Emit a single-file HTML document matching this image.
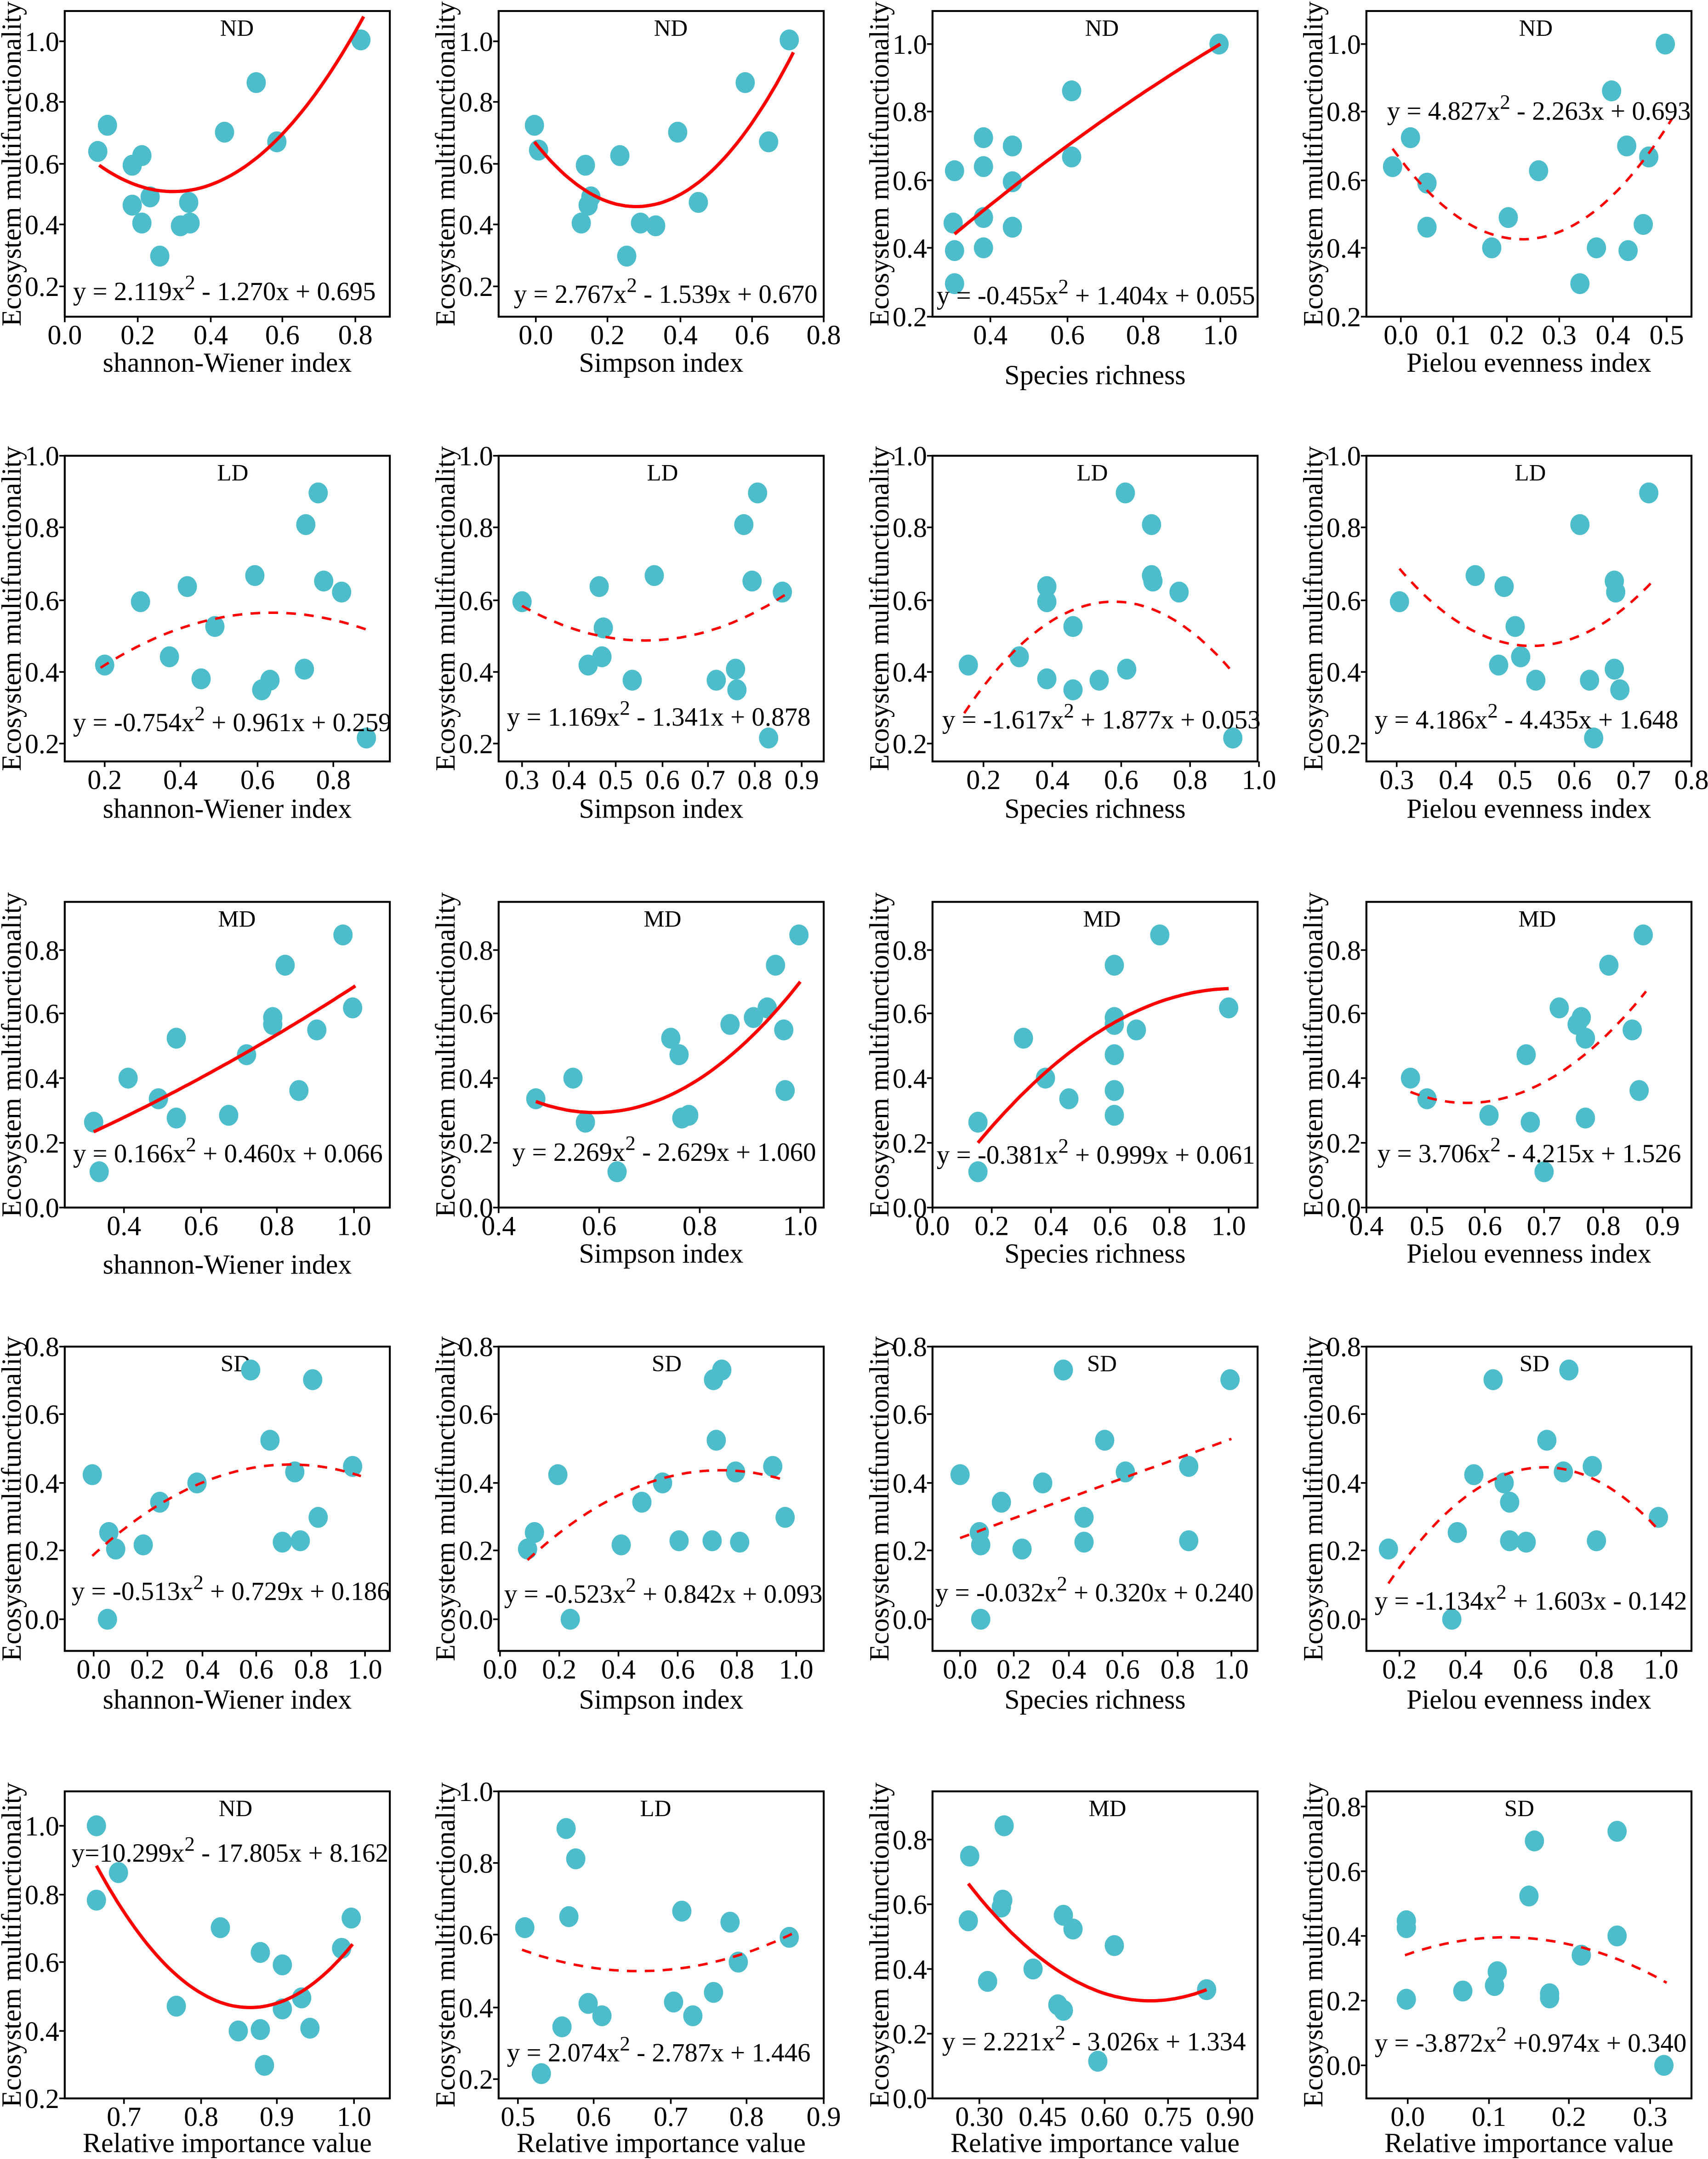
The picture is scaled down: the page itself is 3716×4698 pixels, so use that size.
<!DOCTYPE html>
<html><head><meta charset="utf-8"><style>
html,body{margin:0;padding:0;background:#fff}
svg{display:block}
text{font-family:"Liberation Serif",serif;fill:#000}
</style></head><body>
<svg id="s" xmlns="http://www.w3.org/2000/svg" width="3716" height="4698" viewBox="0 0 1240 1568" preserveAspectRatio="none"></svg>
<script>
const cols=[[47,283],[362,598],[677,913],[992,1228]];
const rows=[[8,230],[331,553],[655,877],[978,1199],[1301,1524]];
const P=[
// row1
{r:0,c:0,lab:"ND",lx:172,ly:20,yt:[[.2,208],[.4,163],[.6,119],[.8,74],[1.0,30]],xt:[["0.0",47],["0.2",100],["0.4",153],["0.6",205],["0.8",258]],xl:"shannon-Wiener index",xly:264,
pts:[[71,110],[78,91],[96,120],[103,113],[96,149],[103,162],[109,143],[116,186],[131,164],[137,147],[138,162],[163,96],[186,60],[201,103],[262,29]],cv:[[72,120],[130,139],[264,12]],d:0,eq:["y = 2.119x"," - 1.270x + 0.695"],ex:53,ey:212},
{r:0,c:1,lab:"ND",lx:487,ly:20,yt:[[.2,208],[.4,163],[.6,119],[.8,74],[1.0,30]],xt:[["0.0",389],["0.2",441],["0.4",494],["0.6",546],["0.8",598]],xl:"Simpson index",xly:264,
pts:[[388,91],[391,109],[425,120],[427,149],[429,143],[422,162],[450,113],[455,186],[465,162],[476,164],[492,96],[507,147],[541,60],[558,103],[573,29]],cv:[[388,103],[460,150],[576,38]],d:0,eq:["y = 2.767x"," - 1.539x + 0.670"],ex:373,ey:214},
{r:0,c:2,lab:"ND",lx:800,ly:20,yt:[[.2,230],[.4,180],[.6,131],[.8,81],[1.0,32]],xt:[["0.4",719],["0.6",775],["0.8",830],["1.0",886]],xl:"Species richness",xly:273,
pts:[[693,124],[714,100],[714,121],[735,106],[735,132],[692,162],[714,158],[735,165],[714,180],[693,182],[693,206],[778,66],[778,114],[885,32]],cv:[[693,170],[790,95],[886,32]],d:0,eq:["y = -0.455x"," + 1.404x + 0.055"],ex:680,ey:215},
{r:0,c:3,lab:"ND",lx:1115,ly:20,yt:[[.2,230],[.4,180],[.6,131],[.8,81],[1.0,32]],xt:[["0.0",1017],["0.1",1055],["0.2",1094],["0.3",1132],["0.4",1171],["0.5",1210]],xl:"Pielou evenness index",xly:264,
pts:[[1011,121],[1024,100],[1036,133],[1036,165],[1083,180],[1095,158],[1117,124],[1147,206],[1159,180],[1170,66],[1181,106],[1182,182],[1193,163],[1197,114],[1209,32]],cv:[[1011,108],[1095,173],[1214,86]],d:1,eq:["y = 4.827x"," - 2.263x + 0.693"],ex:1007,ey:81},
// row2
{r:1,c:0,lab:"LD",lx:169,ly:343,yt:[[.2,540],[.4,488],[.6,436],[.8,383],[1.0,331]],xt:[["0.2",76],["0.4",131],["0.6",187],["0.8",242]],xl:"shannon-Wiener index",xly:588,
pts:[[76,483],[102,437],[136,426],[123,477],[146,493],[156,455],[185,418],[190,501],[196,494],[221,486],[222,381],[231,358],[235,422],[248,430],[266,536]],cv:[[73,485],[200,445],[268,458]],d:1,eq:["y = -0.754x"," + 0.961x + 0.259"],ex:53,ey:525},
{r:1,c:1,lab:"LD",lx:481,ly:343,yt:[[.2,540],[.4,488],[.6,436],[.8,383],[1.0,331]],xt:[["0.3",379],["0.4",413],["0.5",447],["0.6",481],["0.7",514],["0.8",548],["0.9",582]],xl:"Simpson index",xly:588,
pts:[[379,437],[427,483],[435,426],[437,477],[438,456],[459,494],[475,418],[520,494],[534,486],[535,501],[540,381],[550,358],[546,422],[558,536],[568,430]],cv:[[379,440],[475,465],[570,432]],d:1,eq:["y = 1.169x"," - 1.341x + 0.878"],ex:368,ey:521},
{r:1,c:2,lab:"LD",lx:793,ly:343,yt:[[.2,540],[.4,488],[.6,436],[.8,383],[1.0,331]],xt:[["0.2",714],["0.4",764],["0.6",814],["0.8",864],["1.0",914]],xl:"Species richness",xly:588,
pts:[[703,483],[740,477],[760,426],[760,437],[760,493],[779,455],[779,501],[798,494],[817,358],[818,486],[836,381],[836,418],[837,422],[856,430],[895,536]],cv:[[700,518],[810,437],[893,486]],d:1,eq:["y = -1.617x"," + 1.877x + 0.053"],ex:684,ey:523},
{r:1,c:3,lab:"LD",lx:1111,ly:343,yt:[[.2,540],[.4,488],[.6,436],[.8,383],[1.0,331]],xt:[["0.3",1014],["0.4",1057],["0.5",1100],["0.6",1143],["0.7",1186],["0.8",1228]],xl:"Pielou evenness index",xly:588,
pts:[[1016,437],[1071,418],[1088,483],[1092,426],[1100,455],[1104,477],[1115,494],[1147,381],[1154,494],[1172,422],[1173,430],[1172,486],[1176,501],[1157,536],[1197,358]],cv:[[1016,413],[1108,469],[1199,423]],d:1,eq:["y = 4.186x"," - 4.435x + 1.648"],ex:998,ey:523},
// row3
{r:2,c:0,lab:"MD",lx:172,ly:667,yt:[[0,877],[.2,830],[.4,783],[.6,736],[.8,690]],xt:[["0.4",90],["0.6",146],["0.8",201],["1.0",257]],xl:"shannon-Wiener index",xly:919,
pts:[[68,815],[72,851],[93,783],[115,798],[128,812],[128,754],[166,810],[179,766],[198,744],[198,739],[207,701],[217,792],[230,748],[249,679],[256,732]],cv:[[68,822],[160,775],[258,716]],d:0,eq:["y = 0.166x"," + 0.460x + 0.066"],ex:53,ey:838},
{r:2,c:1,lab:"MD",lx:481,ly:667,yt:[[0,877],[.2,830],[.4,783],[.6,736],[.8,690]],xt:[["0.4",362],["0.6",435],["0.8",508],["1.0",581]],xl:"Simpson index",xly:911,
pts:[[389,798],[416,783],[425,815],[448,851],[487,754],[493,766],[495,812],[500,810],[530,744],[547,739],[557,732],[563,701],[569,748],[570,792],[580,679]],cv:[[389,800],[430,808],[581,713]],d:0,eq:["y = 2.269x"," - 2.629x + 1.060"],ex:372,ey:837},
{r:2,c:2,lab:"MD",lx:800,ly:667,yt:[[0,877],[.2,830],[.4,783],[.6,736],[.8,690]],xt:[["0.0",677],["0.2",720],["0.4",763],["0.6",806],["0.8",849],["1.0",892]],xl:"Species richness",xly:911,
pts:[[710,815],[710,851],[743,754],[759,783],[776,798],[809,701],[809,739],[809,744],[809,766],[809,792],[809,810],[825,748],[842,679],[892,732]],cv:[[710,830],[800,748],[892,718]],d:0,eq:["y = -0.381x"," + 0.999x + 0.061"],ex:680,ey:839},
{r:2,c:3,lab:"MD",lx:1116,ly:667,yt:[[0,877],[.2,830],[.4,783],[.6,736],[.8,690]],xt:[["0.4",992],["0.5",1036],["0.6",1078],["0.7",1121],["0.8",1164],["0.9",1207]],xl:"Pielou evenness index",xly:911,
pts:[[1024,783],[1036,798],[1081,810],[1108,766],[1111,815],[1121,851],[1132,732],[1145,744],[1148,739],[1151,754],[1151,812],[1168,701],[1185,748],[1190,792],[1193,679]],cv:[[1024,793],[1065,801],[1195,720]],d:1,eq:["y = 3.706x"," - 4.215x + 1.526"],ex:1000,ey:838},
// row4
{r:3,c:0,lab:"SD",lx:171,ly:990,yt:[[0,1176],[.2,1126],[.4,1077],[.6,1027],[.8,978]],xt:[["0.0",68],["0.2",107],["0.4",147],["0.6",186],["0.8",226],["1.0",265]],xl:"shannon-Wiener index",xly:1235,
pts:[[67,1071],[78,1176],[79,1113],[84,1125],[104,1122],[116,1091],[143,1077],[182,995],[196,1046],[205,1120],[214,1069],[218,1119],[227,1002],[231,1102],[256,1065]],cv:[[67,1130],[190,1065],[262,1072]],d:1,eq:["y = -0.513x"," + 0.729x + 0.186"],ex:52,ey:1156},
{r:3,c:1,lab:"SD",lx:484,ly:990,yt:[[0,1176],[.2,1126],[.4,1077],[.6,1027],[.8,978]],xt:[["0.0",363],["0.2",406],["0.4",449],["0.6",492],["0.8",535],["1.0",578]],xl:"Simpson index",xly:1235,
pts:[[383,1125],[388,1113],[405,1071],[414,1176],[451,1122],[466,1091],[481,1077],[493,1119],[517,1119],[518,1002],[520,1046],[524,995],[534,1069],[537,1120],[561,1065],[570,1102]],cv:[[383,1133],[515,1068],[570,1075]],d:1,eq:["y = -0.523x"," + 0.842x + 0.093"],ex:366,ey:1158},
{r:3,c:2,lab:"SD",lx:800,ly:990,yt:[[0,1176],[.2,1126],[.4,1077],[.6,1027],[.8,978]],xt:[["0.0",697],["0.2",736],["0.4",776],["0.6",815],["0.8",855],["1.0",894]],xl:"Species richness",xly:1235,
pts:[[697,1071],[711,1113],[712,1122],[712,1176],[727,1091],[742,1125],[757,1077],[772,995],[787,1102],[787,1120],[802,1046],[817,1069],[863,1065],[863,1119],[893,1002]],cv:[[697,1117],[795,1081],[894,1045]],d:1,eq:["y = -0.032x"," + 0.320x + 0.240"],ex:679,ey:1157},
{r:3,c:3,lab:"SD",lx:1114,ly:990,yt:[[0,1176],[.2,1126],[.4,1077],[.6,1027],[.8,978]],xt:[["0.2",1016],["0.4",1064],["0.6",1111],["0.8",1159],["1.0",1206]],xl:"Pielou evenness index",xly:1235,
pts:[[1008,1125],[1054,1176],[1058,1113],[1070,1071],[1084,1002],[1092,1077],[1096,1091],[1096,1119],[1108,1120],[1123,1046],[1135,1069],[1139,995],[1156,1065],[1159,1119],[1204,1102]],cv:[[1008,1150],[1140,1068],[1204,1111]],d:1,eq:["y = -1.134x"," + 1.603x - 0.142"],ex:998,ey:1163},
// row5
{r:4,c:0,lab:"ND",lx:171,ly:1313,yt:[[.2,1524],[.4,1475],[.6,1425],[.8,1376],[1.0,1326]],xt:[["0.7",90],["0.8",146],["0.9",201],["1.0",257]],xl:"Relative importance value",xly:1557,
pts:[[70,1326],[86,1360],[70,1380],[128,1457],[160,1400],[173,1475],[189,1418],[189,1474],[192,1500],[205,1427],[205,1459],[219,1451],[225,1473],[248,1415],[255,1393]],cv:[[70,1355],[180,1458],[256,1412]],d:0,eq:["y=10.299x"," - 17.805x + 8.162"],ex:52,ey:1346},
{r:4,c:1,lab:"LD",lx:476,ly:1313,yt:[[.2,1510],[.4,1458],[.6,1405],[.8,1353],[1.0,1301]],xt:[["0.5",376],["0.6",431],["0.7",487],["0.8",542],["0.9",598]],xl:"Relative importance value",xly:1557,
pts:[[381,1400],[393,1506],[408,1472],[411,1328],[413,1392],[418,1350],[427,1455],[437,1464],[495,1388],[489,1454],[503,1464],[518,1447],[530,1396],[536,1425],[573,1407]],cv:[[379,1416],[490,1430],[576,1404]],d:1,eq:["y = 2.074x"," - 2.787x + 1.446"],ex:368,ey:1491},
{r:4,c:2,lab:"MD",lx:804,ly:1313,yt:[[0,1524],[.2,1477],[.4,1430],[.6,1383],[.8,1336]],xt:[["0.30",711],["0.45",757],["0.60",802],["0.75",848],["0.90",893]],xl:"Relative importance value",xly:1557,
pts:[[704,1348],[703,1395],[717,1439],[728,1380],[729,1326],[727,1385],[750,1430],[772,1391],[779,1401],[768,1456],[772,1460],[809,1413],[797,1497],[876,1445]],cv:[[703,1368],[830,1453],[876,1445]],d:0,eq:["y = 2.221x"," - 3.026x + 1.334"],ex:684,ey:1483},
{r:4,c:3,lab:"SD",lx:1103,ly:1313,yt:[[0,1500],[.2,1453],[.4,1406],[.6,1359],[.8,1312]],xt:[["0.0",1022],["0.1",1081],["0.2",1139],["0.3",1198]],xl:"Relative importance value",xly:1557,
pts:[[1021,1395],[1021,1400],[1021,1452],[1062,1446],[1085,1442],[1087,1432],[1110,1377],[1114,1337],[1125,1451],[1125,1448],[1148,1420],[1174,1330],[1174,1406],[1208,1500]],cv:[[1020,1420],[1095,1407],[1210,1440]],d:1,eq:["y = -3.872x"," +0.974x + 0.340"],ex:998,ey:1484},
];
let h="";
for(const p of P){
 const [x0,x1]=cols[p.c],[y0,y1]=rows[p.r];
 h+=`<rect x="${x0}" y="${y0}" width="${x1-x0}" height="${y1-y0}" fill="none" stroke="#000" stroke-width="1.4"/>`;
 for(const [v,y] of p.yt){h+=`<line x1="${x0-4}" x2="${x0}" y1="${y}" y2="${y}" stroke="#000" stroke-width="1.2"/><text x="${x0-4}" y="${y+7}" font-size="20" text-anchor="end">${v.toFixed(1)}</text>`;}
 for(const [t,x] of p.xt){h+=`<line x1="${x}" x2="${x}" y1="${y1}" y2="${y1+4}" stroke="#000" stroke-width="1.2"/><text x="${x}" y="${y1+20}" font-size="20" text-anchor="middle">${t}</text>`;}
 h+=`<text x="${(x0+x1)/2}" y="${p.xly+6}" font-size="20" text-anchor="middle">${p.xl}</text>`;
 h+=`<text transform="translate(${x0-32},${(y0+y1)/2}) rotate(-90)" font-size="20" text-anchor="middle">Ecosystem multifunctionality</text>`;
 h+=`<text x="${p.lx}" y="${p.ly+6}" font-size="17" text-anchor="middle">${p.lab}</text>`;
 for(const [x,y] of p.pts){h+=`<ellipse cx="${x}" cy="${y}" rx="7" ry="7.6" fill="#4dbdcb"/>`;}
 // parabola through 3 pts
 const [[a,ya],[b,yb],[c,yc]]=p.cv;
 const f=x=>ya*(x-b)*(x-c)/((a-b)*(a-c))+yb*(x-a)*(x-c)/((b-a)*(b-c))+yc*(x-a)*(x-b)/((c-a)*(c-b));
 let pts=[];for(let i=0;i<=60;i++){const x=a+(c-a)*i/60;pts.push(x.toFixed(1)+","+f(x).toFixed(1));}
 h+=`<polyline points="${pts.join(" ")}" fill="none" stroke="#f00" stroke-width="${p.d?1.8:2.4}" ${p.d?'stroke-dasharray="7,6"':''}/>`;
 h+=`<text x="${p.ex}" y="${p.ey+6}" font-size="19">${p.eq[0]}<tspan dy="-8" font-size="15">2</tspan><tspan dy="8">${p.eq[1]}</tspan></text>`;
}
document.getElementById("s").innerHTML=h;
</script>
</body></html>
